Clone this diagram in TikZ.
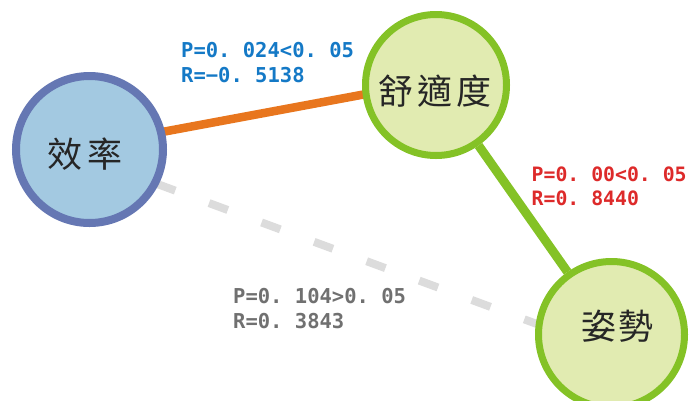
\documentclass[tikz,border=0pt]{standalone}
\usepackage{fontspec}
\newfontfamily\cjk{Noto Sans CJK TC}
\newfontfamily\labfont{DejaVu Sans Mono}
\usetikzlibrary{backgrounds}
\definecolor{effborder}{HTML}{6577B3}
\definecolor{efffill}{HTML}{A3C9E1}
\definecolor{grnborder}{HTML}{84C226}
\definecolor{grnfill}{HTML}{E1EBB1}
\definecolor{orangeline}{HTML}{E8761E}
\definecolor{grayline}{HTML}{DCDCDC}
\definecolor{bluetxt}{HTML}{1479C6}
\definecolor{redtxt}{HTML}{DD2A2A}
\definecolor{graytxt}{HTML}{707070}
\begin{document}
\begin{tikzpicture}[x=1pt,y=-1pt,
  bubble/.style={circle,inner sep=0pt},
  effbubble/.style={bubble,draw=effborder,fill=efffill,line width=8pt,minimum size=147pt},
  grnbubble/.style={bubble,draw=grnborder,fill=grnfill,line width=7pt},
  cjktxt/.style={inner sep=0pt,font=\cjk\fontsize{35}{40}\selectfont,text=black!85},
  lab/.style={inner sep=0pt,align=left,anchor=base west,font=\labfont\bfseries\fontsize{20.5}{25}\selectfont},
  orangeln/.style={draw=orangeline,line width=8.5pt},
  greenln/.style={draw=grnborder,line width=9pt},
  grayln/.style={draw=grayline,line width=8pt,dash pattern=on 20pt off 36pt,dash phase=40.6pt}]
\useasboundingbox (0,0) rectangle (690,400);
\node[effbubble] (eff) at (89.5,149.5) {};
\node[grnbubble,minimum size=141pt] (com) at (436,85) {};
\node[grnbubble,minimum size=146pt] (pos) at (611.5,334.5) {};
\begin{scope}[on background layer]
\draw[grayln] ([yshift=-9.5pt]eff.center) -- ([yshift=-17pt]pos.center);
\draw[orangeln] ([yshift=4pt]eff.center) -- ([yshift=4pt]com.center);
\draw[greenln] (com) -- (pos);
\end{scope}
\node[cjktxt] (efft) at (85,154) {效\hspace{5pt}率};
\node[cjktxt] (comt) at (435,91.5) {舒\hspace{4pt}適\hspace{4pt}度};
\node[cjktxt] (post) at (617,326.5) {姿\hspace{2pt}勢};
\node[lab,text=bluetxt] (lblue) at (181,82) {P=0.\ 024<0.\ 05\\R=−0.\ 5138};
\node[lab,text=redtxt,font=\labfont\bfseries\fontsize{19.8}{23.5}\selectfont] (lred) at (531.5,205) {P=0.\ 00<0.\ 05\\R=0.\ 8440};
\node[lab,text=graytxt] (lgray) at (233,328) {P=0.\ 104>0.\ 05\\R=0.\ 3843};
\end{tikzpicture}
\end{document}
